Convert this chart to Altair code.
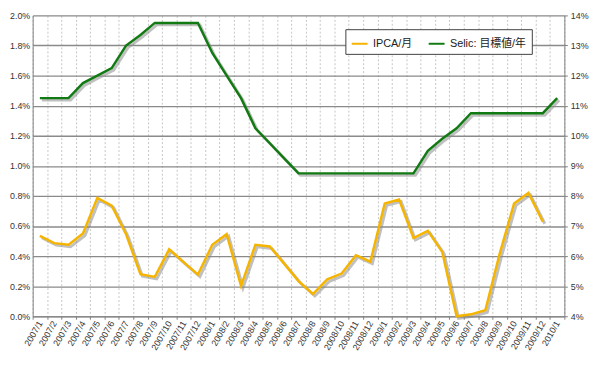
import altair as alt
import pandas as pd

months = ["2007/1", "2007/2", "2007/3", "2007/4", "2007/5", "2007/6", "2007/7", "2007/8",
          "2007/9", "2007/10", "2007/11", "2007/12", "2008/1", "2008/2", "2008/3", "2008/4",
          "2008/5", "2008/6", "2008/7", "2008/8", "2008/9", "2008/10", "2008/11", "2008/12",
          "2009/1", "2009/2", "2009/3", "2009/4", "2009/5", "2009/6", "2009/7", "2009/8",
          "2009/9", "2009/10", "2009/11", "2009/12", "2010/1"]

ipca = [0.535, 0.486, 0.475, 0.55, 0.787, 0.735, 0.545, 0.28, 0.262, 0.445, 0.36, 0.277,
        0.475, 0.546, 0.202, 0.475, 0.464, 0.35, 0.234, 0.148, 0.245, 0.284, 0.406, 0.363,
        0.75, 0.776, 0.52, 0.568, 0.428, 0.0, 0.013, 0.04, 0.417, 0.75, 0.82, 0.628]

selic = [11.25, 11.25, 11.25, 11.75, 12.0, 12.25, 13.0, 13.35, 13.75, 13.75, 13.75, 13.75,
         12.75, 12.0, 11.25, 10.25, 9.75, 9.25, 8.75, 8.75, 8.75, 8.75, 8.75, 8.75,
         8.75, 8.75, 8.75, 9.5, 9.9, 10.25, 10.75, 10.75, 10.75, 10.75, 10.75, 10.75, 11.25]

series_names = ["IPCA/月", "Selic: 目標値/年"]
colors = ["#F5B400", "#127A12"]

left_ticks = [0.0, 0.2, 0.4, 0.6, 0.8, 1.0, 1.2, 1.4, 1.6, 1.8, 2.0]
right_ticks = [4, 5, 6, 7, 8, 9, 10, 11, 12, 13, 14]

df_ipca = pd.DataFrame({"month": months[:len(ipca)], "value": ipca, "series": series_names[0]})
df_selic = pd.DataFrame({"month": months, "value": selic, "series": series_names[1]})

FONT = "Liberation Sans, Noto Sans CJK JP, sans-serif"

x_enc = alt.X(
    "month:O", sort=months, bandPosition=0.5,
    scale=alt.Scale(type="band", domain=months, paddingInner=0, paddingOuter=0),
    axis=alt.Axis(title=None, tickBand="extent", labelAngle=300, labelAlign="right",
                  labelBaseline="middle", grid=True, gridDash=[2, 2], gridColor="#c4c4c4",
                  gridWidth=1, tickSize=3, labelFontSize=9, labelFont=FONT,
                  labelColor="#333333", domainColor="#808080", tickColor="#808080",
                  labelPadding=2, labelOverlap=False),
)

y_left_scale = alt.Scale(domain=[0, 2.0], nice=False, zero=False)
y_right_scale = alt.Scale(domain=[4, 14], nice=False, zero=False)

y_left_axis = alt.Axis(orient="left", title=None, values=left_ticks,
                       labelExpr="format(datum.value, '.1f') + '%'", grid=True,
                       gridColor="#8a8a8a", gridWidth=1.3, ticks=False, tickSize=0,
                       labelPadding=3, labelFontSize=9, labelFont=FONT, labelColor="#333333",
                       domainColor="#808080")
y_right_axis = alt.Axis(orient="right", title=None, values=right_ticks,
                        labelExpr="format(datum.value, '.0f') + '%'", grid=False,
                        tickSize=3, tickColor="#808080", labelPadding=3, labelFontSize=9,
                        labelFont=FONT, labelColor="#333333", domainColor="#808080")

color_scale = alt.Scale(domain=series_names, range=colors)


def shadow(df, scale, axis):
    return alt.Chart(df).mark_line(color="#8c8c8c", opacity=0.55, strokeWidth=3,
                                   xOffset=2, yOffset=2).encode(
        x=x_enc, y=alt.Y("value:Q", scale=scale, axis=axis))


def main(df, scale, axis):
    return alt.Chart(df).mark_line(strokeWidth=2.5).encode(
        x=x_enc, y=alt.Y("value:Q", scale=scale, axis=axis),
        color=alt.Color("series:N", scale=color_scale, sort=series_names,
                        legend=alt.Legend(title=None)))


left = alt.layer(shadow(df_ipca, y_left_scale, y_left_axis),
                 main(df_ipca, y_left_scale, y_left_axis))
right = alt.layer(shadow(df_selic, y_right_scale, y_right_axis),
                  main(df_selic, y_right_scale, y_right_axis))

chart = alt.layer(left, right).resolve_scale(y="independent").properties(
    width=539, height=305,
    autosize=alt.AutoSizeParams(type="none"),
    padding={"left": 25, "top": 5, "right": 28, "bottom": 55},
    background="white",
).configure_view(stroke=None).configure_legend(
    orient="none", legendX=317, legendY=14, direction="horizontal",
    fillColor="white", strokeColor="#404040", padding=5,
    symbolType="stroke", symbolStrokeWidth=2, symbolSize=260,
    labelFontSize=11, labelFont=FONT, labelColor="#222222", columnPadding=12,
)

chart.save("out.html", embed_options={"renderer": "svg", "actions": False})
